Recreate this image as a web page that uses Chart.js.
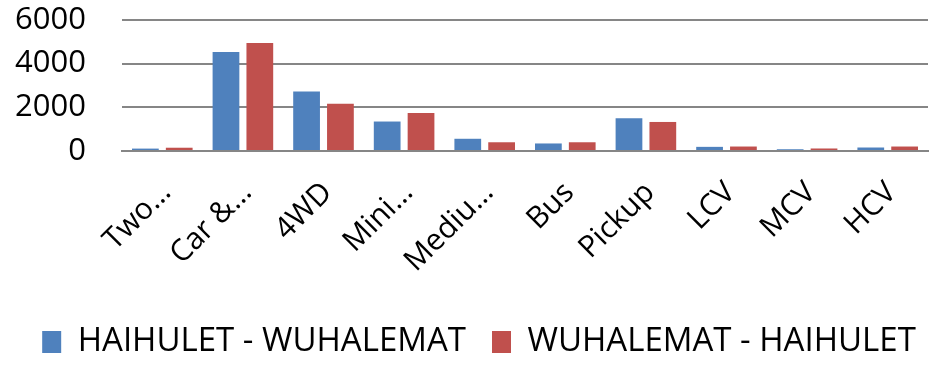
<!DOCTYPE html>
<html>
<head>
<meta charset="utf-8">
<script src="https://cdn.jsdelivr.net/npm/chart.js@4/dist/chart.umd.min.js"></script>
<style>
html,body{margin:0;padding:0;background:#fff;font-family:'Open Sans',sans-serif;}
#wrap{width:945px;height:366px;position:relative;}
</style>
</head>
<body>
<div id="wrap"><canvas id="c"></canvas></div>
<script>
const categories = ["Two…", "Car &…", "4WD", "Mini…", "Mediu…", "Bus", "Pickup", "LCV", "MCV", "HCV"];
const seriesNames = ["HAIHULET - WUHALEMAT", "WUHALEMAT - HAIHULET"];
const haihuletWuhalemat = [110, 4530, 2720, 1350, 560, 345, 1500, 190, 80, 160];
const wuhalematHaihulet = [150, 4950, 2160, 1740, 400, 400, 1330, 205, 115, 205];
const yTicks = [0, 2000, 4000, 6000];

const FONT = "'Open Sans', sans-serif";

const ch = new Chart(document.getElementById('c'), {
  type: 'bar',
  data: {
    labels: categories,
    datasets: [
      { label: seriesNames[0], data: haihuletWuhalemat, backgroundColor: '#4F81BD', borderWidth: 0 },
      { label: seriesNames[1], data: wuhalematHaihulet, backgroundColor: '#C0504D', borderWidth: 0 }
    ]
  },
  options: {
    responsive: true,
    maintainAspectRatio: false,
    animation: false,
    devicePixelRatio: 1,
    layout: { padding: { top: 20, right: 0, left: 13, bottom: -2.5 } },
    datasets: { bar: { categoryPercentage: 0.84, barPercentage: 0.79 } },
    plugins: {
      legend: {
        position: 'bottom',
        labels: { font: { family: FONT, size: 33, lineHeight: 1.0 }, color: '#000', boxWidth: 19, boxHeight: 22, padding: 26 }
      },
      tooltip: { enabled: false }
    },
    scales: {
      x: {
        afterFit: (s) => { s.height = 148.5; },
        grid: { display: false, drawTicks: false },
        border: { display: true, color: '#868686', width: 2 },
        ticks: { font: { family: FONT, size: 30 }, color: '#000', minRotation: 45, maxRotation: 45, autoSkip: false, padding: 24, labelOffset: 4 }
      },
      y: {
        min: 0, max: 6000,
        afterBuildTicks: (s) => { s.ticks = yTicks.map(v => ({ value: v })); },
        afterFit: (s) => { s.width = 109; },
        grid: { color: '#868686', lineWidth: 2, drawTicks: true, tickLength: 36, tickColor: 'rgba(0,0,0,0)' },
        border: { display: false },
        ticks: { font: { family: FONT, size: 31 }, color: '#000', padding: 0, autoSkip: false, callback: (v) => String(v) }
      },
      yRightSpace: {
        position: 'right',
        display: true,
        afterFit: (s) => { s.width = 17; },
        grid: { display: false, drawTicks: false },
        border: { display: false },
        ticks: { display: false }
      }
    }
  }
});
if (document.fonts && document.fonts.load) {
  document.fonts.load("30px 'Open Sans'").then(() => ch.update());
}
</script>
</body>
</html>
